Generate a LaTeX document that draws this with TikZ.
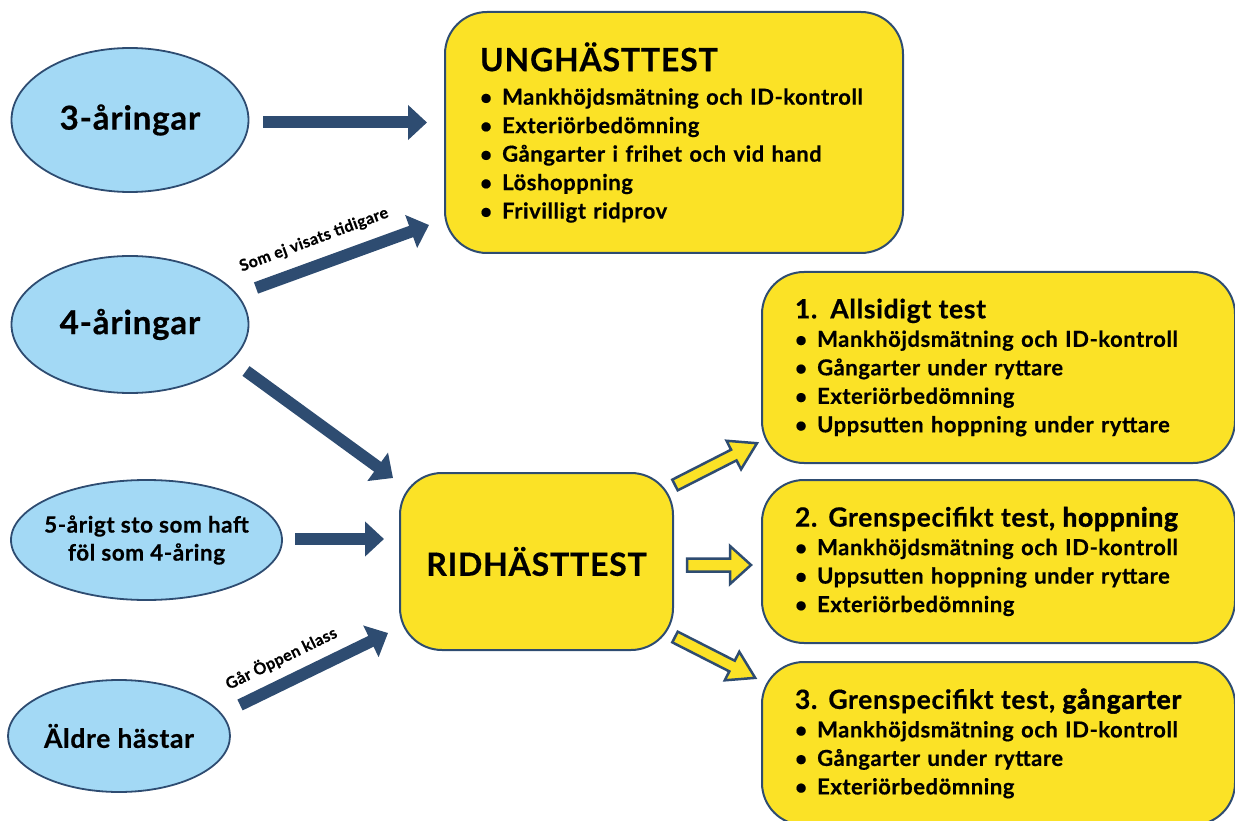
\documentclass[tikz,border=0pt]{standalone}
\usepackage{fontspec}
\setmainfont{Lato}[LetterSpace=2.5,BoldFeatures={FakeBold=0.5}]
\newfontfamily\heavyfont{Lato}[LetterSpace=2.5,FakeBold=2]
\usetikzlibrary{shapes.geometric,arrows.meta}

\definecolor{ellblue}{RGB}{163,217,245}
\definecolor{boxyellow}{RGB}{251,226,38}
\definecolor{navy}{RGB}{46,76,113}

\newcommand{\blt}{{\fontsize{21}{21}\selectfont\textbullet}\hspace{10pt}}

\tikzset{
  agebox/.style={ellipse,draw=navy,line width=1.8pt,fill=ellblue,inner sep=0pt,align=center,font=\bfseries\fontsize{33}{30}\selectfont},
  testbox/.style={rectangle,rounded corners=42pt,draw=navy,line width=2pt,fill=boxyellow,inner ysep=0pt,align=left,font=\bfseries\fontsize{22}{28.5}\selectfont},
  navyarrow/.style={draw=navy,line width=12pt,-{Triangle[length=19pt,width=34pt]}},
  yellowarrow/.style={draw=navy,fill=boxyellow,line width=2.5pt,line join=miter},
  armlabel/.style={font=\bfseries\fontsize{16}{16}\selectfont,inner sep=0pt}
}

\begin{document}
\begin{tikzpicture}[x=1pt,y=-1pt]
% \draw[help lines,step=100] (0,0) grid (1235,821);
\useasboundingbox (0,0) rectangle (1235,821);
%
\node (a1) [agebox,minimum width=237,minimum height=144] at (130,120) {3-åringar};
\node (a2) [agebox,minimum width=237,minimum height=137] at (130,324.5) {4-åringar};
\node (a3) [agebox,minimum width=271,minimum height=120,inner xsep=-20pt,font=\bfseries\fontsize{22.5}{28}\selectfont] at (146.5,540) {5-årigt sto som haft\\föl som 4-åring};
\node (a4) [agebox,minimum width=222,minimum height=112,inner xsep=-10pt,font=\bfseries\fontsize{26.5}{28}\selectfont] at (119,736) {Äldre hästar};
%
\node (u) [testbox,minimum height=241,text width=388,inner xsep=35] at (674,132.5) {%
{\fontsize{32}{30}\selectfont UNGHÄSTTEST}\\[5pt]
\blt Mankhöjdsmätning och ID-kontroll\\
\blt Exteriörbedömning\\
\blt Gångarter i frihet och vid hand\\
\blt Löshoppning\\
\blt Frivilligt ridprov};
\node (r) [testbox,minimum width=273,minimum height=177,align=center,font=\bfseries\fontsize{32}{32}\selectfont] at (536.5,561.5) {RIDHÄSTTEST};
%
\node (t1) [testbox,minimum height=191,text width=407,inner xsep=33] at (998.5,367.5) {%
{\fontsize{26.5}{26}\selectfont 1.\hspace{13pt}Allsidigt test}\\
\blt Mankhöjdsmätning och ID-kontroll\\
\blt Gångarter under ryttare\\
\blt Exteriörbedömning\\
\blt Uppsutten hoppning under ryttare};
\node (t2) [testbox,minimum height=163,text width=407,inner xsep=33] at (998.5,561.5) {%
{\fontsize{26.5}{26}\selectfont 2. Grenspecifikt test, {\heavyfont hoppning}}\\
\blt Mankhöjdsmätning och ID-kontroll\\
\blt Uppsutten hoppning under ryttare\\
\blt Exteriörbedömning};
\node (t3) [testbox,minimum height=163,text width=407,inner xsep=33] at (998.5,743.5) {%
{\fontsize{26.5}{26}\selectfont 3. Grenspecifikt test, {\heavyfont gångarter}}\\
\blt Mankhöjdsmätning och ID-kontroll\\
\blt Gångarter under ryttare\\
\blt Exteriörbedömning};
%
\coordinate (p1) at (263,122.5);  \coordinate (q1) at (427,122.5);
\coordinate (p2) at (256,288);    \coordinate (q2) at (429,225);
\coordinate (p3) at (246,371);    \coordinate (q3) at (393,478);
\coordinate (p4) at (295,539);    \coordinate (q4) at (384,539);
\coordinate (p5) at (240,705);    \coordinate (q5) at (388,633);
\draw[navyarrow] (p1) -- (q1);
\draw[navyarrow] (p2) -- (q2);
\draw[navyarrow] (p3) -- (q3);
\draw[navyarrow] (p4) -- (q4);
\draw[navyarrow] (p5) -- (q5);
\node (l1) [armlabel,rotate=20.4] at (314,240) {Som ej visats tidigare};
\node (l2) [armlabel,rotate=26] at (281,658) {Går Öppen klass};
%
\coordinate (s1) at (675,485);
\coordinate (s2) at (687,565);
\coordinate (s3) at (675,637);
\draw[yellowarrow,shift={(s1)},rotate=27] (0,-6) -- (66,-6) -- (66,-16) -- (92,0) -- (66,16) -- (66,6) -- (0,6) -- cycle;
\draw[yellowarrow,shift={(s2)}] (0,-6.5) -- (43,-6.5) -- (43,-19) -- (64,0) -- (43,19) -- (43,6.5) -- (0,6.5) -- cycle;
\draw[yellowarrow,shift={(s3)},rotate=-27] (0,-6) -- (64,-6) -- (64,-16) -- (90,0) -- (64,16) -- (64,6) -- (0,6) -- cycle;
\end{tikzpicture}
\end{document}
